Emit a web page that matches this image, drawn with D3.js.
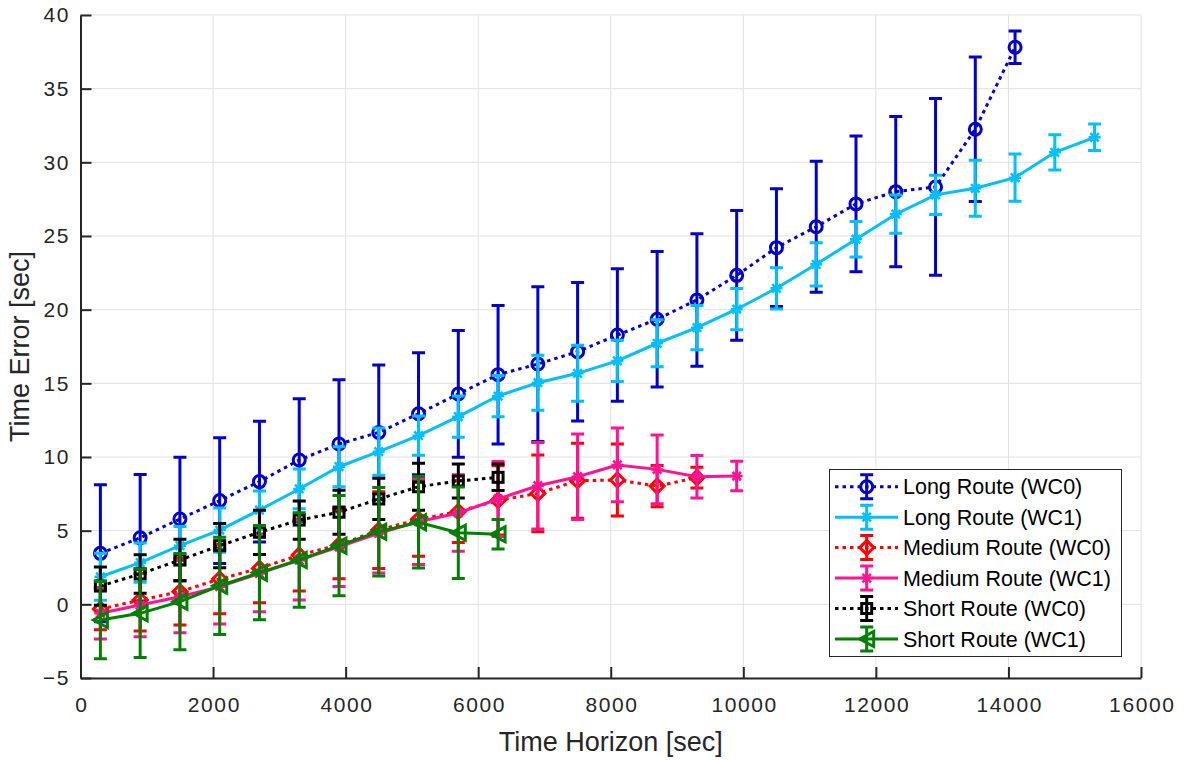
<!DOCTYPE html>
<html>
<head>
<meta charset="utf-8">
<script src="https://cdn.jsdelivr.net/npm/d3@7"></script>
<style>
  html, body { margin: 0; padding: 0; background: #fff; }
  svg { display: block; }
</style>
</head>
<body>
<svg id="chart" width="1185" height="760"></svg>
<script>
// ---------------- DATA ----------------
const xTicks = [0, 2000, 4000, 6000, 8000, 10000, 12000, 14000, 16000];
const yTicks = [-5, 0, 5, 10, 15, 20, 25, 30, 35, 40];

const horizonLong   = [300,900,1500,2100,2700,3300,3900,4500,5100,5700,6300,6900,7500,8100,8700,9300,9900,10500,11100,11700,12300,12900,13500,14100];
const horizonLong1  = [300,900,1500,2100,2700,3300,3900,4500,5100,5700,6300,6900,7500,8100,8700,9300,9900,10500,11100,11700,12300,12900,13500,14100,14700,15300];
const horizonMed0   = [300,900,1500,2100,2700,3300,3900,4500,5100,5700,6300,6900,7500,8100,8700,9300];
const horizonMed1   = [300,900,1500,2100,2700,3300,3900,4500,5100,5700,6300,6900,7500,8100,8700,9300,9900];
const horizonShort  = [300,900,1500,2100,2700,3300,3900,4500,5100,5700,6300];

const longWC0     = [3.46,4.52,5.79,7.04,8.33,9.80,10.88,11.67,12.94,14.28,15.59,16.31,17.15,18.28,19.35,20.66,22.33,24.21,25.63,27.18,28.01,28.33,32.25,37.81];
const longWC0Err  = [4.65,4.30,4.20,4.27,4.10,4.16,4.37,4.57,4.14,4.30,4.70,5.25,4.70,4.50,4.60,4.50,4.40,4.00,4.45,4.60,5.10,6.00,4.90,1.10];

const longWC1     = [1.87,2.83,3.98,5.04,6.40,7.83,9.34,10.36,11.45,12.74,14.14,15.04,15.68,16.52,17.72,18.78,20.03,21.45,23.08,24.78,26.48,27.79,28.24,28.96,30.68,31.70];
const longWC1Err  = [1.60,1.33,1.30,1.50,1.30,1.35,1.36,1.60,1.33,1.40,1.40,1.87,1.90,1.40,1.60,1.50,1.40,1.40,1.47,1.20,1.30,1.33,1.90,1.60,1.20,0.90];

const medWC0      = [-0.32,0.29,0.86,1.72,2.44,3.35,4.03,5.04,5.77,6.30,7.05,7.53,8.39,8.44,8.03,8.60];
const medWC0Err   = [1.40,2.10,2.26,2.36,2.33,2.45,2.30,2.60,2.50,2.10,2.35,2.60,2.55,2.45,1.40,0.70];

const medWC1      = [-0.61,-0.05,0.52,1.20,2.10,3.00,3.91,4.82,5.61,6.20,7.15,8.05,8.66,9.46,9.16,8.66,8.71];
const medWC1Err   = [1.75,2.15,2.45,2.54,2.60,2.70,2.70,2.70,2.90,2.60,2.55,2.93,2.90,2.50,2.33,1.45,1.00];

const shortWC0    = [1.24,2.06,3.01,3.98,4.89,5.72,6.25,7.15,7.98,8.37,8.62];
const shortWC0Err = [1.30,1.30,1.40,1.50,1.50,1.30,1.50,1.40,1.60,1.15,0.90];

const shortWC1    = [-1.07,-0.61,0.18,1.26,2.15,3.01,3.98,4.93,5.57,4.86,4.75];
const shortWC1Err = [2.63,3.00,3.27,3.30,3.20,3.20,3.40,3.00,3.10,3.10,1.00];

const seriesNames = ["Long Route (WC0)","Long Route (WC1)","Medium Route (WC0)","Medium Route (WC1)","Short Route (WC0)","Short Route (WC1)"];

// ---------------- STYLE ----------------
const series = [
  {name: seriesNames[0], x: horizonLong,  y: longWC0,  e: longWC0Err,  color: "#0000cd", dash: "3.5,4", marker: "circle"},
  {name: seriesNames[1], x: horizonLong1, y: longWC1,  e: longWC1Err,  color: "#00bfff", dash: null,    marker: "asterisk"},
  {name: seriesNames[2], x: horizonMed0,  y: medWC0,   e: medWC0Err,   color: "#ff0000", dash: "3.5,4", marker: "diamond"},
  {name: seriesNames[3], x: horizonMed1,  y: medWC1,   e: medWC1Err,   color: "#ff1493", dash: null,    marker: "asterisk"},
  {name: seriesNames[4], x: horizonShort, y: shortWC0, e: shortWC0Err, color: "#000000", dash: "3.5,4", marker: "square"},
  {name: seriesNames[5], x: horizonShort, y: shortWC1, e: shortWC1Err, color: "#008000", dash: null,    marker: "triangle-left"}
];

const plotL = 80.5, plotR = 1141, plotT = 15, plotB = 678;
const axisColor = "#262626";
const svg = d3.select("#chart");

const x = d3.scaleLinear().domain([0, 16000]).range([plotL, plotR]);
const y = d3.scaleLinear().domain([-5, 40]).range([plotB, plotT]);

// grid
const grid = svg.append("g");
grid.selectAll("line.gx").data(xTicks).join("line")
  .attr("x1", d => x(d)).attr("x2", d => x(d)).attr("y1", plotT).attr("y2", plotB)
  .attr("stroke", "#e1e1e1").attr("stroke-width", 1);
grid.selectAll("line.gy").data(yTicks).join("line")
  .attr("x1", plotL).attr("x2", plotR).attr("y1", d => y(d)).attr("y2", d => y(d))
  .attr("stroke", "#e1e1e1").attr("stroke-width", 1);

// axes
const tickFont = "'Liberation Sans', Arial, sans-serif";
const xAxis = svg.append("g").attr("transform", `translate(0,${plotB})`)
  .call(d3.axisBottom(x).tickValues(xTicks).tickFormat(d3.format("d")).tickSizeInner(-11).tickSizeOuter(0));
const yAxis = svg.append("g").attr("transform", `translate(${plotL},0)`)
  .call(d3.axisLeft(y).tickValues(yTicks).tickFormat(d3.format("d")).tickSizeInner(-11).tickSizeOuter(0));
[xAxis, yAxis].forEach(a => {
  a.select(".domain").attr("stroke", axisColor).attr("stroke-width", 2);
  a.selectAll(".tick line").attr("stroke", axisColor).attr("stroke-width", 2);
  a.selectAll(".tick text").attr("fill", axisColor)
    .style("font-family", tickFont).style("font-size", "21px").style("letter-spacing", "1.6px");
});
xAxis.selectAll(".tick text").attr("y", 19).attr("dx", "0.8px");
yAxis.selectAll(".tick text").attr("x", -10.5);

// axis labels
svg.append("text").attr("x", (plotL + plotR) / 2).attr("y", 751)
  .attr("text-anchor", "middle").attr("fill", axisColor)
  .style("font-family", tickFont).style("font-size", "27px")
  .text("Time Horizon [sec]");
svg.append("text").attr("transform", `translate(29,${(plotT + plotB) / 2}) rotate(-90)`)
  .attr("text-anchor", "middle").attr("fill", axisColor)
  .style("font-family", tickFont).style("font-size", "27px")
  .text("Time Error [sec]");

// marker drawing
function drawMarker(g, type, cx, cy, color) {
  const sw = 3;
  if (type === "circle") {
    g.append("circle").attr("cx", cx).attr("cy", cy).attr("r", 6)
      .attr("fill", "none").attr("stroke", color).attr("stroke-width", sw);
  } else if (type === "diamond") {
    const r = 7;
    g.append("path").attr("d", `M${cx},${cy - r}L${cx + r},${cy}L${cx},${cy + r}L${cx - r},${cy}Z`)
      .attr("fill", "none").attr("stroke", color).attr("stroke-width", sw);
  } else if (type === "square") {
    const s = 5;
    g.append("rect").attr("x", cx - s).attr("y", cy - s).attr("width", 2 * s).attr("height", 2 * s)
      .attr("fill", "none").attr("stroke", color).attr("stroke-width", sw);
  } else if (type === "triangle-left") {
    const w = 7, h = 7.5;
    g.append("path").attr("d", `M${cx - w},${cy}L${cx + w},${cy - h}L${cx + w},${cy + h}Z`)
      .attr("fill", "none").attr("stroke", color).attr("stroke-width", sw);
  } else if (type === "asterisk") {
    const r = 6, d = r * 0.7071;
    g.append("path").attr("d",
      `M${cx - r},${cy}L${cx + r},${cy}M${cx},${cy - r}L${cx},${cy + r}` +
      `M${cx - d},${cy - d}L${cx + d},${cy + d}M${cx - d},${cy + d}L${cx + d},${cy - d}`)
      .attr("fill", "none").attr("stroke", color).attr("stroke-width", 2.5);
  }
}

function drawErrBar(g, cx, y1, y2, color) {
  const cw = 6.5;
  g.append("path").attr("d",
    `M${cx},${y1}L${cx},${y2}M${cx - cw},${y1}L${cx + cw},${y1}M${cx - cw},${y2}L${cx + cw},${y2}`)
    .attr("fill", "none").attr("stroke", color).attr("stroke-width", 3);
}

// series
const line = d3.line().x(d => x(d[0])).y(d => y(d[1]));
series.forEach(s => {
  const g = svg.append("g");
  const pts = s.x.map((xv, i) => [xv, s.y[i], s.e[i]]);
  pts.forEach(p => drawErrBar(g, x(p[0]), y(p[1] + p[2]), y(p[1] - p[2]), s.color));
  g.append("path").attr("d", line(pts)).attr("fill", "none")
    .attr("stroke", s.color).attr("stroke-width", 3)
    .attr("stroke-dasharray", s.dash);
  pts.forEach(p => drawMarker(g, s.marker, x(p[0]), y(p[1]), s.color));
});

// legend
const lg = svg.append("g");
lg.append("rect").attr("x", 829.5).attr("y", 469.5).attr("width", 292).attr("height", 187)
  .attr("fill", "#fff").attr("stroke", axisColor).attr("stroke-width", 1);
series.forEach((s, i) => {
  const cy = 486.7 + i * 30.45;
  lg.append("line").attr("x1", 835).attr("x2", 898).attr("y1", cy).attr("y2", cy)
    .attr("stroke", s.color).attr("stroke-width", 3).attr("stroke-dasharray", s.dash);
  drawErrBar(lg, 866.7, cy - 12, cy + 12, s.color);
  drawMarker(lg, s.marker, 866.7, cy, s.color);
  lg.append("text").attr("x", 903).attr("y", cy + 7.6).attr("fill", "#000")
    .style("font-family", tickFont).style("font-size", "21.5px")
    .text(s.name);
});
</script>
</body>
</html>
